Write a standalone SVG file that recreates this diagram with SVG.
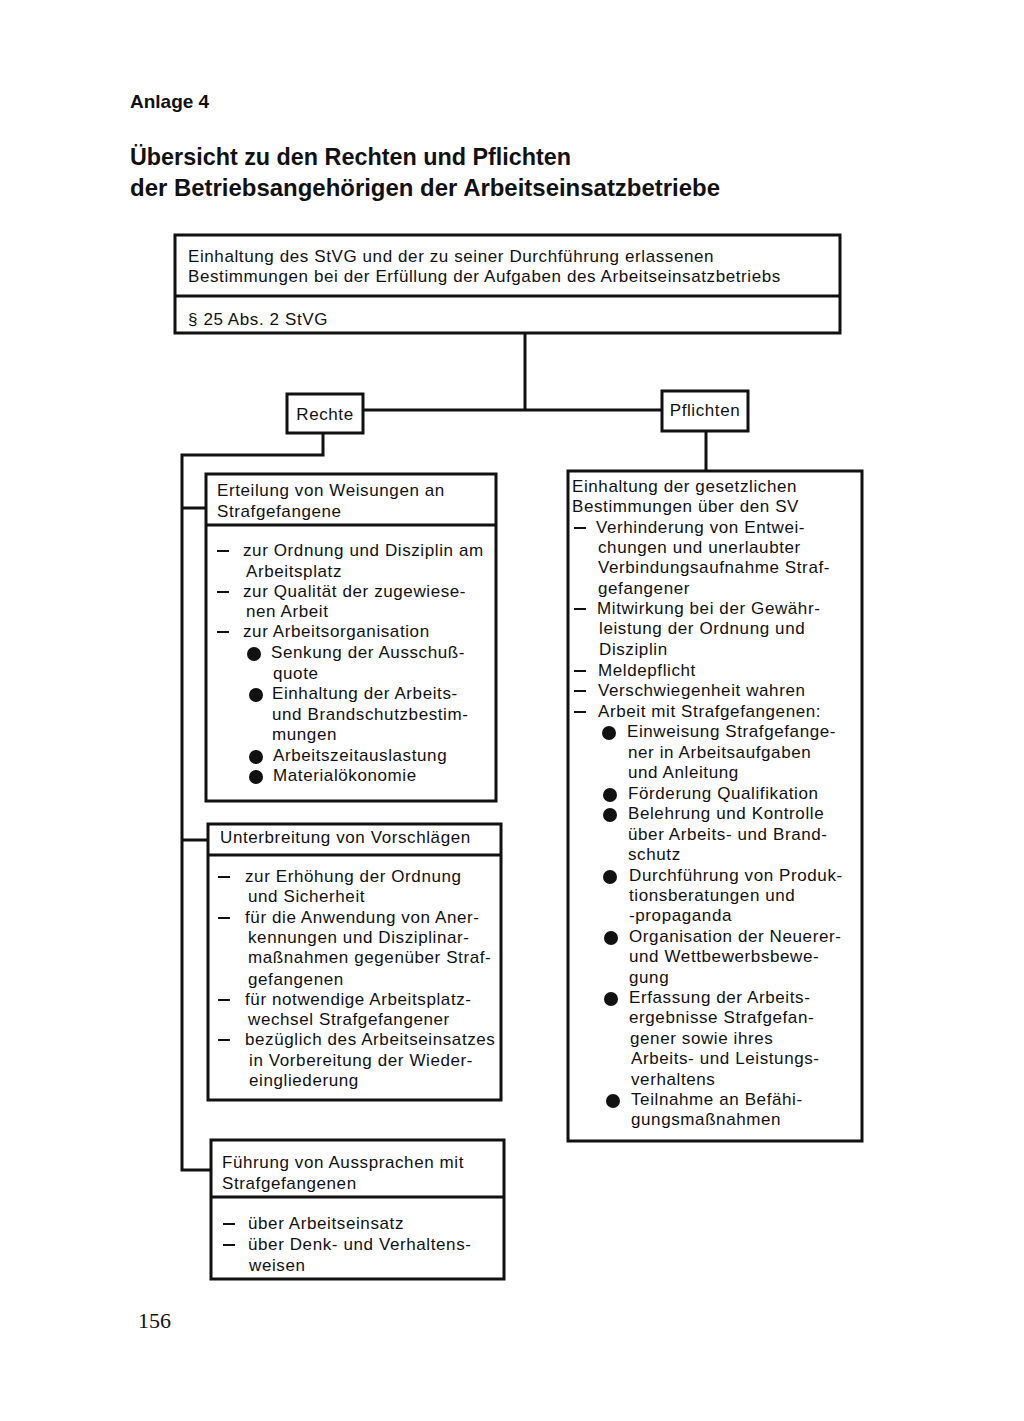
<svg xmlns="http://www.w3.org/2000/svg" width="1024" height="1421" viewBox="0 0 1024 1421">
<style>
.bx{fill:#fff;stroke:#111;stroke-width:3}
.ln{fill:none;stroke:#111;stroke-width:3}
.t{font-family:"Liberation Sans",Arial,sans-serif;font-size:17px;letter-spacing:0.6px;fill:#111}
.h{font-family:"Liberation Sans",Arial,sans-serif;font-weight:bold;fill:#111}
.d{stroke:#111;stroke-width:2}
.b{fill:#111}
</style>
<rect width="1024" height="1421" fill="#fff"/>
<text class="h" x="130" y="108" font-size="19">Anlage 4</text>
<text class="h" x="130" y="165" font-size="24" textLength="441" lengthAdjust="spacingAndGlyphs">Übersicht zu den Rechten und Pflichten</text>
<text class="h" x="130" y="196" font-size="24" textLength="590" lengthAdjust="spacingAndGlyphs">der Betriebsangehörigen der Arbeitseinsatzbetriebe</text>

<g id="connectors">
<polyline class="ln" points="525,334 525,410"/>
<polyline class="ln" points="363,410 662,410"/>
<polyline class="ln" points="323,433 323,455 182,455 182,1170 211,1170"/>
<polyline class="ln" points="182,508 206,508"/>
<polyline class="ln" points="182,840 208,840"/>
<polyline class="ln" points="706,431 706,471"/>
</g>

<g id="top">
<rect class="bx" x="175" y="235" width="665" height="98"/>
<line class="ln" x1="175" y1="296" x2="840" y2="296"/>
<text class="t" x="188" y="262">Einhaltung des StVG und der zu seiner Durchführung erlassenen</text>
<text class="t" x="188" y="282">Bestimmungen bei der Erfüllung der Aufgaben des Arbeitseinsatzbetriebs</text>
<text class="t" x="188" y="325">§ 25 Abs. 2 StVG</text>
</g>

<g id="rechte">
<rect class="bx" x="287" y="394" width="76" height="39"/>
<text class="t" x="325" y="420" text-anchor="middle">Rechte</text>
</g>
<g id="pflichten">
<rect class="bx" x="662" y="391" width="86" height="40"/>
<text class="t" x="705" y="416" text-anchor="middle">Pflichten</text>
</g>

<g id="weisungen">
<rect class="bx" x="206" y="474" width="290" height="327"/>
<line class="ln" x1="206" y1="525" x2="496" y2="525"/>
<text class="t" x="217" y="496">Erteilung von Weisungen an</text>
<text class="t" x="217" y="517">Strafgefangene</text>
<line class="d" x1="217" y1="551" x2="229" y2="551"/>
<text class="t" x="243" y="556">zur Ordnung und Disziplin am</text>
<text class="t" x="246" y="577">Arbeitsplatz</text>
<line class="d" x1="217" y1="592" x2="229" y2="592"/>
<text class="t" x="243" y="597">zur Qualität der zugewiese-</text>
<text class="t" x="246" y="617">nen Arbeit</text>
<line class="d" x1="217" y1="632" x2="229" y2="632"/>
<text class="t" x="243" y="637">zur Arbeitsorganisation</text>
<circle class="b" cx="254" cy="654" r="7"/>
<text class="t" x="271" y="658">Senkung der Ausschuß-</text>
<text class="t" x="273" y="679">quote</text>
<circle class="b" cx="256" cy="695" r="7"/>
<text class="t" x="272" y="699">Einhaltung der Arbeits-</text>
<text class="t" x="272" y="720">und Brandschutzbestim-</text>
<text class="t" x="272" y="740">mungen</text>
<circle class="b" cx="256" cy="757" r="7"/>
<text class="t" x="273" y="761">Arbeitszeitauslastung</text>
<circle class="b" cx="256" cy="777" r="7"/>
<text class="t" x="273" y="781">Materialökonomie</text>
</g>

<g id="vorschlaege">
<rect class="bx" x="208" y="824" width="293" height="276"/>
<line class="ln" x1="208" y1="855" x2="501" y2="855"/>
<text class="t" x="220" y="843">Unterbreitung von Vorschlägen</text>
<line class="d" x1="218" y1="877" x2="230" y2="877"/>
<text class="t" x="245" y="882">zur Erhöhung der Ordnung</text>
<text class="t" x="248" y="902">und Sicherheit</text>
<line class="d" x1="218" y1="918" x2="230" y2="918"/>
<text class="t" x="245" y="923">für die Anwendung von Aner-</text>
<text class="t" x="248" y="943">kennungen und Disziplinar-</text>
<text class="t" x="248" y="963">maßnahmen gegenüber Straf-</text>
<text class="t" x="248" y="985">gefangenen</text>
<line class="d" x1="218" y1="1000" x2="230" y2="1000"/>
<text class="t" x="245" y="1005">für notwendige Arbeitsplatz-</text>
<text class="t" x="248" y="1025">wechsel Strafgefangener</text>
<line class="d" x1="218" y1="1040" x2="230" y2="1040"/>
<text class="t" x="245" y="1045">bezüglich des Arbeitseinsatzes</text>
<text class="t" x="249" y="1066">in Vorbereitung der Wieder-</text>
<text class="t" x="249" y="1086">eingliederung</text>
</g>

<g id="aussprachen">
<rect class="bx" x="211" y="1140" width="293" height="139"/>
<line class="ln" x1="211" y1="1197" x2="504" y2="1197"/>
<text class="t" x="222" y="1168">Führung von Aussprachen mit</text>
<text class="t" x="222" y="1189">Strafgefangenen</text>
<line class="d" x1="223" y1="1224" x2="235" y2="1224"/>
<text class="t" x="248" y="1229">über Arbeitseinsatz</text>
<line class="d" x1="223" y1="1245" x2="235" y2="1245"/>
<text class="t" x="248" y="1250">über Denk- und Verhaltens-</text>
<text class="t" x="249" y="1271">weisen</text>
</g>

<g id="pflichtenbox">
<rect class="bx" x="568" y="471" width="294" height="670"/>
<text class="t" x="572" y="492">Einhaltung der gesetzlichen</text>
<text class="t" x="572" y="512">Bestimmungen über den SV</text>
<line class="d" x1="574" y1="528" x2="586" y2="528"/>
<text class="t" x="596" y="533">Verhinderung von Entwei-</text>
<text class="t" x="598" y="553">chungen und unerlaubter</text>
<text class="t" x="598" y="573">Verbindungsaufnahme Straf-</text>
<text class="t" x="598" y="594">gefangener</text>
<line class="d" x1="574" y1="609" x2="586" y2="609"/>
<text class="t" x="597" y="614">Mitwirkung bei der Gewähr-</text>
<text class="t" x="599" y="634">leistung der Ordnung und</text>
<text class="t" x="599" y="655">Disziplin</text>
<line class="d" x1="574" y1="671" x2="586" y2="671"/>
<text class="t" x="598" y="676">Meldepflicht</text>
<line class="d" x1="574" y1="691" x2="586" y2="691"/>
<text class="t" x="598" y="696">Verschwiegenheit wahren</text>
<line class="d" x1="574" y1="712" x2="586" y2="712"/>
<text class="t" x="598" y="717">Arbeit mit Strafgefangenen:</text>
<circle class="b" cx="609" cy="733" r="7"/>
<text class="t" x="627" y="737">Einweisung Strafgefange-</text>
<text class="t" x="628" y="758">ner in Arbeitsaufgaben</text>
<text class="t" x="628" y="778">und Anleitung</text>
<circle class="b" cx="610" cy="795" r="7"/>
<text class="t" x="628" y="799">Förderung Qualifikation</text>
<circle class="b" cx="610" cy="815" r="7"/>
<text class="t" x="628" y="819">Belehrung und Kontrolle</text>
<text class="t" x="628" y="840">über Arbeits- und Brand-</text>
<text class="t" x="628" y="860">schutz</text>
<circle class="b" cx="610" cy="877" r="7"/>
<text class="t" x="629" y="881">Durchführung von Produk-</text>
<text class="t" x="629" y="901">tionsberatungen und</text>
<text class="t" x="629" y="921">-propaganda</text>
<circle class="b" cx="611" cy="938" r="7"/>
<text class="t" x="629" y="942">Organisation der Neuerer-</text>
<text class="t" x="629" y="962">und Wettbewerbsbewe-</text>
<text class="t" x="629" y="983">gung</text>
<circle class="b" cx="611" cy="999" r="7"/>
<text class="t" x="629" y="1003">Erfassung der Arbeits-</text>
<text class="t" x="629" y="1023">ergebnisse Strafgefan-</text>
<text class="t" x="630" y="1044">gener sowie ihres</text>
<text class="t" x="631" y="1064">Arbeits- und Leistungs-</text>
<text class="t" x="631" y="1085">verhaltens</text>
<circle class="b" cx="613" cy="1101" r="7"/>
<text class="t" x="631" y="1105">Teilnahme an Befähi-</text>
<text class="t" x="631" y="1125">gungsmaßnahmen</text>
</g>

<text x="138" y="1328" font-family="Liberation Serif,serif" font-size="22" fill="#111">156</text>
</svg>
